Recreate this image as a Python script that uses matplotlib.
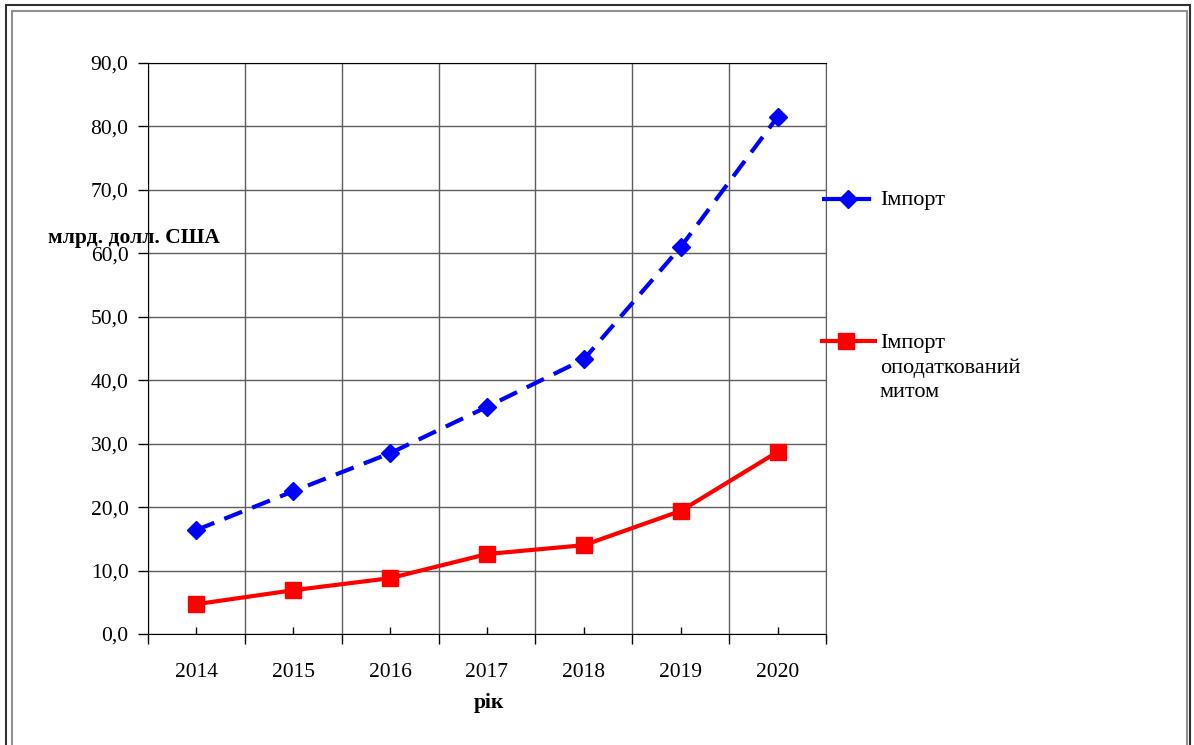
import matplotlib.pyplot as plt
import numpy as np
from matplotlib.lines import Line2D
from matplotlib.patches import Rectangle
from matplotlib.ticker import FuncFormatter, MultipleLocator

years = ["2014", "2015", "2016", "2017", "2018", "2019", "2020"]
imports = [16.4, 22.5, 28.5, 35.8, 43.3, 61.0, 81.5]
imports_dutiable = [4.7, 6.9, 8.8, 12.6, 14.0, 19.4, 28.7]
labels = ["Імпорт", "Імпорт\nоподаткований\nмитом"]

plt.rcParams["font.family"] = "Liberation Serif"
plt.rcParams["font.size"] = 15.5

W, H = 1194, 745
fig = plt.figure(figsize=(W / 100, H / 100), dpi=100)
ax = fig.add_axes([148 / W, 1 - 634 / H, (826 - 148) / W, (634 - 63) / H])

x = np.arange(len(years))
ax.plot(x, imports, color="#0000ff", lw=3, dashes=(4.6, 2.6),
        marker="D", ms=9, mec="#0000ff", mfc="#0000ff", zorder=3)
ax.plot(x, imports_dutiable, color="#ff0000", lw=3,
        marker="s", ms=11, mec="#ff0000", mfc="#ff0000", zorder=3)

ax.set_xlim(-0.5, len(years) - 0.5)
ax.set_ylim(0, 90)
ax.yaxis.set_major_locator(MultipleLocator(10))
ax.yaxis.set_major_formatter(FuncFormatter(lambda v, _: f"{v:.1f}".replace(".", ",")))

# category boundaries carry the grid, year labels sit in the middle
ax.set_xticks(np.arange(len(years) + 1) - 0.5)
ax.set_xticklabels([])
ax.set_xticks(x, minor=True)
ax.set_xticklabels(years, minor=True)
ax.tick_params(axis="x", which="major", direction="out", length=7, width=1)
ax.tick_params(axis="x", which="minor", direction="in", length=5, width=1, pad=21)
ax.tick_params(axis="y", direction="out", length=7, width=1, pad=7)

ax.grid(True, which="major", color="#5e5e5e", lw=1)
ax.set_axisbelow(True)
for side in ["left", "bottom", "top"]:
    ax.spines[side].set_color("black")
ax.spines["right"].set_color("#5e5e5e")

fig.text(134 / W, 1 - 238 / H, "млрд. долл. США", ha="center", va="center",
         fontweight="bold", fontsize=15.5)
fig.text(489 / W, 1 - 703 / H, "рік", ha="center", va="center",
         fontweight="bold", fontsize=15.5)

# legend drawn by hand to the right of the plot
fig.add_artist(Line2D([822 / W, 875 / W], [1 - 199 / H] * 2, color="#0000ff", lw=3,
                      dashes=(4.6, 2.6)))
fig.add_artist(Line2D([848 / W], [1 - 199 / H], color="#0000ff", marker="D", ms=9))
fig.text(880 / W, 1 - 201 / H, labels[0], ha="left", va="center", fontsize=16)

fig.add_artist(Line2D([822 / W, 875 / W], [1 - 341 / H] * 2, color="#ff0000", lw=3))
fig.add_artist(Line2D([846 / W], [1 - 341 / H], color="#ff0000", marker="s", ms=11))
fig.text(880 / W, 1 - 334 / H, labels[1], ha="left", va="top", fontsize=16,
         linespacing=1.38)

# double frame around the figure
fig.add_artist(Rectangle((6 / W, -0.05), (1190 - 6) / W, 1.05 - 5 / H,
                         transform=fig.transFigure, fill=False, ec="#303030", lw=1.5))
fig.add_artist(Rectangle((12 / W, -0.05), (1187 - 12) / W, 1.05 - 11 / H,
                         transform=fig.transFigure, fill=False, ec="#909090", lw=1.5))

fig.savefig("out.png", dpi=100)
